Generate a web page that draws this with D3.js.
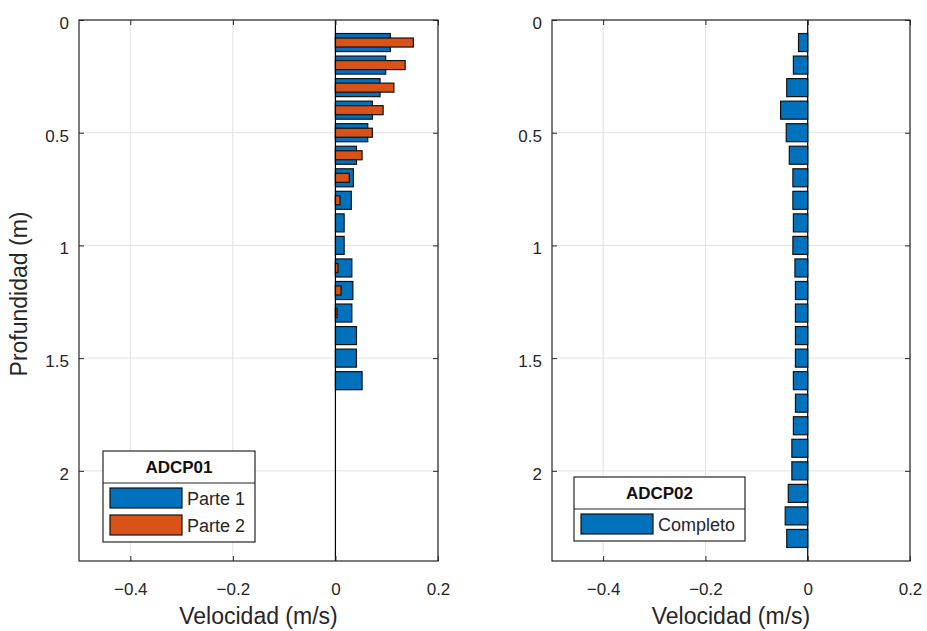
<!DOCTYPE html>
<html lang="es">

<head>
    <meta charset="utf-8">
    <script src="https://cdn.jsdelivr.net/npm/d3@7"></script>
    <style>
        body { margin: 0; background: #fff; }
        svg { display: block; font-family: "Liberation Sans", Arial, sans-serif; }
        .tick text { fill: #262626; }
    </style>
</head>

<body>
    <div id="my_dataviz"></div>

    <script>
        // datos ADCP01 (parte 1 y parte 2) y ADCP02 (completo)
        const profP1 = [0.1, 0.2, 0.3, 0.4, 0.5, 0.6, 0.7, 0.8, 0.9, 1.0, 1.1, 1.2, 1.3, 1.4, 1.5, 1.6];
        const velP1 = [0.107, 0.098, 0.087, 0.072, 0.063, 0.041, 0.035, 0.031, 0.017, 0.017, 0.032, 0.034, 0.032, 0.041, 0.041, 0.052];

        const profP2 = [0.1, 0.2, 0.3, 0.4, 0.5, 0.6, 0.7, 0.8, 0.9, 1.0, 1.1, 1.2, 1.3];
        const velP2 = [0.152, 0.136, 0.114, 0.093, 0.072, 0.052, 0.027, 0.009, 0, 0, 0.005, 0.011, 0.003];

        const profCompleto = [0.1, 0.2, 0.3, 0.4, 0.5, 0.6, 0.7, 0.8, 0.9, 1.0, 1.1, 1.2, 1.3, 1.4, 1.5, 1.6, 1.7, 1.8, 1.9, 2.0, 2.1, 2.2, 2.3];
        const velCompleto = [-0.018, -0.028, -0.041, -0.053, -0.042, -0.036, -0.029, -0.029, -0.028, -0.029, -0.025, -0.024, -0.024, -0.024, -0.024, -0.028, -0.024, -0.028, -0.031, -0.031, -0.038, -0.044, -0.041];

        const xTicks = [-0.4, -0.2, 0, 0.2];
        const yTicks = [0, 0.5, 1, 1.5, 2];

        const width = 927, height = 631;
        const yTop = 20, yBottom = 561;
        const azul = "#0072BD", naranja = "#D95319";
        const ejeColor = "#262626";

        const svg = d3.select("#my_dataviz")
            .append("svg")
            .attr("width", width)
            .attr("height", height);

        const fmt = v => String(v).replace("-", "\u2212");

        function panel(x0, x1, series, conEtiquetaY) {
            const g = svg.append("g");
            const x = d3.scaleLinear().domain([-0.5, 0.2]).range([x0, x1]);
            const y = d3.scaleLinear().domain([0, 2.4]).range([yTop, yBottom]);

            // grid
            g.selectAll("gx").data(xTicks).join("line")
                .attr("x1", d => x(d)).attr("x2", d => x(d))
                .attr("y1", yTop).attr("y2", yBottom)
                .attr("stroke", "#e2e2e2");
            g.selectAll("gy").data(yTicks).join("line")
                .attr("x1", x0).attr("x2", x1)
                .attr("y1", d => y(d)).attr("y2", d => y(d))
                .attr("stroke", "#e2e2e2");

            // barras horizontales
            series.forEach(s => {
                const data = s.prof.map((p, i) => ({ p, v: s.vel[i] }));
                g.selectAll("bar").data(data).join("rect")
                    .attr("x", d => Math.min(x(0), x(d.v)))
                    .attr("width", d => Math.abs(x(d.v) - x(0)))
                    .attr("y", d => y(d.p - s.ancho / 2))
                    .attr("height", y(s.ancho) - y(0))
                    .attr("fill", s.color)
                    .attr("stroke", "#111")
                    .attr("stroke-width", 1.2);
            });

            // linea base en cero
            g.append("line")
                .attr("x1", x(0)).attr("x2", x(0))
                .attr("y1", yTop).attr("y2", yBottom)
                .attr("stroke", "#000").attr("stroke-width", 1.2);

            // ejes con ticks hacia dentro
            const ax = g.append("g").attr("transform", `translate(0,${yBottom})`)
                .call(d3.axisBottom(x).tickValues(xTicks).tickFormat(fmt).tickSize(-5).tickPadding(22));
            ax.selectAll("text").style("font-size", "17px");
            g.append("g").attr("transform", `translate(0,${yTop})`)
                .call(d3.axisTop(x).tickValues(xTicks).tickFormat("").tickSize(-5));
            const ay = g.append("g").attr("transform", `translate(${x0},0)`)
                .call(d3.axisLeft(y).tickValues(yTicks).tickFormat(fmt).tickSize(-5).tickPadding(10));
            ay.selectAll("text").style("font-size", "17px").attr("dy", "0.5em");
            g.append("g").attr("transform", `translate(${x1},0)`)
                .call(d3.axisRight(y).tickValues(yTicks).tickFormat("").tickSize(-5));
            g.selectAll(".domain").remove();
            g.selectAll(".tick line").attr("stroke", ejeColor);

            // caja
            g.append("rect")
                .attr("x", x0).attr("y", yTop)
                .attr("width", x1 - x0).attr("height", yBottom - yTop)
                .attr("fill", "none").attr("stroke", ejeColor).attr("stroke-width", 1.2);

            // etiquetas
            g.append("text")
                .attr("x", (x0 + x1) / 2).attr("y", 624)
                .attr("text-anchor", "middle")
                .style("font-size", "23px").attr("fill", ejeColor)
                .text("Velocidad (m/s)");
            if (conEtiquetaY) {
                g.append("text")
                    .attr("transform", `translate(27,294) rotate(-90)`)
                    .attr("text-anchor", "middle")
                    .style("font-size", "23px").attr("fill", ejeColor)
                    .text("Profundidad (m)");
            }
            return g;
        }

        function leyenda(lx, ly, w, hTitulo, titulo, items) {
            const g = svg.append("g").attr("transform", `translate(${lx},${ly})`);
            const h = hTitulo + items.length * 27 + 5;
            g.append("rect").attr("width", w).attr("height", h)
                .attr("fill", "#fff").attr("stroke", ejeColor).attr("stroke-width", 1.2);
            g.append("line").attr("x1", 0).attr("x2", w)
                .attr("y1", hTitulo).attr("y2", hTitulo)
                .attr("stroke", ejeColor).attr("stroke-width", 1.2);
            g.append("text")
                .attr("x", w / 2).attr("y", hTitulo - 10)
                .attr("text-anchor", "middle")
                .style("font-size", "17px").style("font-weight", "bold")
                .attr("fill", "#111")
                .text(titulo);
            items.forEach((it, i) => {
                const yy = hTitulo + 5 + i * 27;
                g.append("rect")
                    .attr("x", 7).attr("y", yy).attr("width", 72).attr("height", 20)
                    .attr("fill", it.color).attr("stroke", "#111").attr("stroke-width", 1.2);
                g.append("text")
                    .attr("x", 84).attr("y", yy + 17)
                    .style("font-size", "18px").attr("fill", ejeColor)
                    .text(it.label);
            });
        }

        panel(79, 438, [
            { prof: profP1, vel: velP1, color: azul, ancho: 0.08 },
            { prof: profP2, vel: velP2, color: naranja, ancho: 0.04 }
        ], true);

        panel(552, 910, [
            { prof: profCompleto, vel: velCompleto, color: azul, ancho: 0.08 }
        ], false);

        leyenda(103, 451, 152, 32, "ADCP01", [
            { color: azul, label: "Parte 1" },
            { color: naranja, label: "Parte 2" }
        ]);
        leyenda(574, 477, 171, 32, "ADCP02", [
            { color: azul, label: "Completo" }
        ]);
    </script>

</body>

</html>
